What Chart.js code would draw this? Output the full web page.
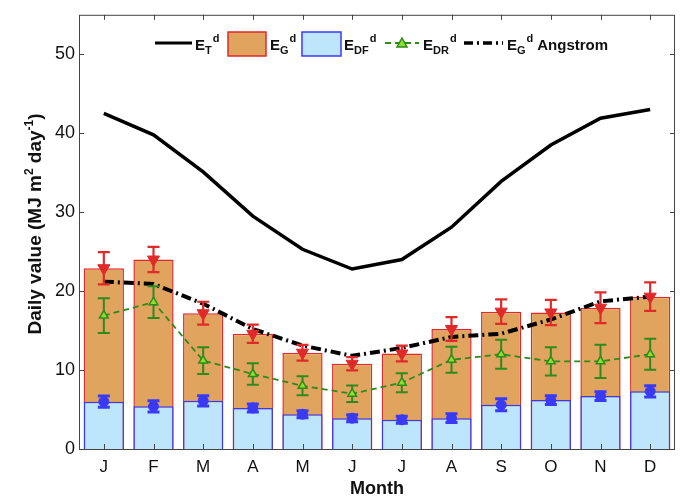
<!DOCTYPE html>
<html>
<head>
<meta charset="utf-8">
<script src="https://cdn.jsdelivr.net/npm/chart.js@4.4.0/dist/chart.umd.min.js"></script>
<style>
  html, body { margin: 0; padding: 0; background: #fff; }
  #wrap { width: 686px; height: 501px; }
</style>
</head>
<body>
<div id="wrap"><canvas id="chart" width="686" height="501"></canvas></div>
<script>
const months = ['J', 'F', 'M', 'A', 'M', 'J', 'J', 'A', 'S', 'O', 'N', 'D'];
const yTicks = [0, 10, 20, 30, 40, 50];

// extraterrestrial (ET), global (EG), diffuse (EDF), direct (EDR), Angstrom estimate
const et = [42.5, 39.8, 35.1, 29.5, 25.3, 22.8, 24.0, 28.1, 33.9, 38.5, 41.9, 43.0];
const eg = [22.9, 24.0, 17.2, 14.6, 12.2, 10.8, 12.1, 15.2, 17.4, 17.3, 17.9, 19.3];
const egErr = [2.05, 1.6, 1.45, 1.15, 1.0, 0.85, 1.0, 1.5, 1.55, 1.6, 1.95, 1.8];
const edf = [6.0, 5.4, 6.1, 5.2, 4.4, 3.9, 3.7, 3.9, 5.6, 6.2, 6.7, 7.3];
const edfErr = [0.7, 0.7, 0.65, 0.5, 0.45, 0.45, 0.45, 0.55, 0.75, 0.55, 0.55, 0.7];
const edr = [16.9, 18.6, 11.2, 9.5, 8.0, 7.0, 8.4, 11.3, 12.0, 11.1, 11.1, 12.0];
const edrErr = [2.2, 2.0, 1.7, 1.35, 1.2, 1.05, 1.2, 1.65, 1.85, 1.8, 2.1, 1.95];
const angstrom = [21.2, 20.9, 18.4, 15.2, 13.1, 11.8, 12.8, 14.2, 14.6, 16.4, 18.7, 19.3];

const FONT = 'Arial, "Liberation Sans", Helvetica, sans-serif';
const orange = '#E0A45E', red = '#E02A2A', lightBlue = '#BDE5FB', blue = '#3A3AF5';
const green = '#2F8A1C', lightGreen = '#8EE030';

// error bars, drawn right before the marker dataset they belong to
// [errors, colour, line width]
const errorSets = { 4: [egErr, red, 2.2], 5: [edfErr, blue, 3], 6: [edrErr, green, 2] };
const errorBars = {
    id: 'errorBars',
    beforeDatasetDraw(chart, args) {
        const e = errorSets[args.index];
        if (!e) return;
        const ctx = chart.ctx;
        const y = chart.scales.y;
        const data = chart.data.datasets[args.index].data;
        ctx.save();
        ctx.strokeStyle = e[1];
        ctx.lineWidth = e[2];
        args.meta.data.forEach((pt, i) => {
            const top = y.getPixelForValue(data[i] + e[0][i]);
            const bot = y.getPixelForValue(data[i] - e[0][i]);
            ctx.beginPath();
            ctx.moveTo(pt.x, top); ctx.lineTo(pt.x, bot);
            ctx.moveTo(pt.x - 6, top); ctx.lineTo(pt.x + 6, top);
            ctx.moveTo(pt.x - 6, bot); ctx.lineTo(pt.x + 6, bot);
            ctx.stroke();
        });
        ctx.restore();
    }
};

// box around the plot with inward ticks, like the original figure
const frame = {
    id: 'frame',
    afterDraw(chart) {
        const ctx = chart.ctx;
        const a = chart.chartArea;
        const x = chart.scales.x, y = chart.scales.y;
        ctx.save();
        ctx.strokeStyle = '#444';
        ctx.lineWidth = 1;
        ctx.strokeRect(a.left + 0.5, a.top + 0.5, a.right - a.left - 1, a.bottom - a.top);
        ctx.beginPath();
        yTicks.forEach(v => {
            const py = Math.round(y.getPixelForValue(v)) + 0.5;
            ctx.moveTo(a.left, py); ctx.lineTo(a.left + 5, py);
            ctx.moveTo(a.right, py); ctx.lineTo(a.right - 5, py);
        });
        months.forEach((m, i) => {
            const px = Math.round(x.getPixelForValue(i)) + 0.5;
            ctx.moveTo(px, a.top); ctx.lineTo(px, a.top + 5);
            ctx.moveTo(px, a.bottom); ctx.lineTo(px, a.bottom - 5);
        });
        ctx.stroke();
        ctx.restore();
    }
};

// draws E with subscript and superscript d, returns the end x
function drawE(ctx, x, y, sub, size) {
    ctx.font = 'bold ' + size + 'px ' + FONT;
    ctx.fillText('E', x, y);
    x += ctx.measureText('E').width;
    ctx.font = 'bold ' + Math.round(size * 0.7) + 'px ' + FONT;
    ctx.fillText(sub, x, y + 4);
    ctx.fillText('d', x + ctx.measureText(sub).width + 1, y - 8);
    return x + ctx.measureText(sub).width + 1 + ctx.measureText('d').width;
}

const legendAndTitle = {
    id: 'legendAndTitle',
    afterDraw(chart) {
        const ctx = chart.ctx;
        ctx.save();
        ctx.fillStyle = '#111';
        ctx.textBaseline = 'alphabetic';
        const ly = 43, by = 50, fs = 15;

        ctx.strokeStyle = '#000'; ctx.lineWidth = 3;
        ctx.beginPath(); ctx.moveTo(155, ly); ctx.lineTo(192, ly); ctx.stroke();
        drawE(ctx, 195, by, 'T', fs);

        ctx.fillStyle = orange; ctx.fillRect(228, 32, 38, 24);
        ctx.strokeStyle = red; ctx.lineWidth = 1.5; ctx.strokeRect(228, 32, 38, 24);
        ctx.fillStyle = '#111';
        drawE(ctx, 270, by, 'G', fs);

        ctx.fillStyle = lightBlue; ctx.fillRect(302, 32, 39, 24);
        ctx.strokeStyle = blue; ctx.lineWidth = 1.5; ctx.strokeRect(302, 32, 39, 24);
        ctx.fillStyle = '#111';
        drawE(ctx, 344, by, 'DF', fs);

        ctx.strokeStyle = green; ctx.lineWidth = 2; ctx.setLineDash([6, 4]);
        ctx.beginPath(); ctx.moveTo(385, ly); ctx.lineTo(419, ly); ctx.stroke();
        ctx.setLineDash([]);
        ctx.fillStyle = lightGreen; ctx.strokeStyle = green; ctx.lineWidth = 1.5;
        ctx.beginPath(); ctx.moveTo(402, ly - 5); ctx.lineTo(407, ly + 4); ctx.lineTo(397, ly + 4);
        ctx.closePath(); ctx.fill(); ctx.stroke();
        ctx.fillStyle = '#111';
        drawE(ctx, 423, by, 'DR', fs);

        ctx.strokeStyle = '#000'; ctx.lineWidth = 3.5; ctx.setLineDash([9, 4, 2, 4]);
        ctx.beginPath(); ctx.moveTo(464, ly); ctx.lineTo(503, ly); ctx.stroke();
        ctx.setLineDash([]);
        let ex = drawE(ctx, 507, by, 'G', fs);
        ctx.font = 'bold ' + fs + 'px ' + FONT;
        ctx.fillText('Angstrom', ex + 4, by);

        // y axis title with superscripts
        ctx.translate(35, 224);
        ctx.rotate(-Math.PI / 2);
        const big = 'bold 19px ' + FONT, small = 'bold 12px ' + FONT;
        const parts = [['Daily value (MJ m', big, 0], ['2', small, -8], [' day', big, 0], ['-1', small, -8], [')', big, 0]];
        let w = 0;
        parts.forEach(p => { ctx.font = p[1]; w += ctx.measureText(p[0]).width; });
        let tx = -w / 2;
        parts.forEach(p => {
            ctx.font = p[1];
            ctx.fillText(p[0], tx, 6 + p[2]);
            tx += ctx.measureText(p[0]).width;
        });
        ctx.restore();
    }
};

new Chart(document.getElementById('chart'), {
    data: {
        labels: months,
        datasets: [
            { type: 'bar', label: 'EG', data: eg, backgroundColor: orange, borderColor: red,
              borderWidth: 1.5, grouped: false, order: 10 },
            { type: 'bar', label: 'EDF', data: edf, backgroundColor: lightBlue, borderColor: blue,
              borderWidth: 1.5, grouped: false, order: 9 },
            { type: 'line', label: 'ET', data: et, borderColor: '#000', borderWidth: 3.5,
              pointRadius: 0, tension: 0, order: 8 },
            { type: 'line', label: 'EG Angstrom', data: angstrom, borderColor: '#000', borderWidth: 4,
              borderDash: [10, 4, 2, 4], pointRadius: 0, tension: 0, order: 7 },
            { type: 'line', label: 'EG mean', data: eg, showLine: false, pointStyle: 'triangle',
              rotation: 180, pointRadius: 7, backgroundColor: red, borderColor: red, order: 5 },
            { type: 'line', label: 'EDF mean', data: edf, showLine: false, pointStyle: 'circle',
              pointRadius: 5, backgroundColor: blue, borderColor: blue, order: 4 },
            { type: 'line', label: 'EDR', data: edr, borderColor: green, borderWidth: 1.8,
              borderDash: [6, 4], pointStyle: 'triangle', pointRadius: 5, pointBorderWidth: 1.5,
              pointBackgroundColor: lightGreen, pointBorderColor: green, tension: 0, order: 6 }
        ]
    },
    options: {
        responsive: false,
        animation: false,
        events: [],
        layout: { padding: { top: 12, right: 11, left: 0, bottom: 0 } },
        plugins: { legend: { display: false }, tooltip: { enabled: false } },
        datasets: { bar: { barPercentage: 0.81, categoryPercentage: 1 } },
        scales: {
            x: {
                offset: true,
                grid: { display: false, drawTicks: false },
                border: { display: false },
                ticks: { color: '#111', font: { family: FONT, size: 17 }, padding: 8 },
                title: { display: true, text: 'Month', color: '#111',
                         font: { family: FONT, size: 18, weight: 'bold' }, padding: { top: 0, bottom: 1 } },
                afterFit(s) { s.height = 52; }
            },
            y: {
                min: 0, max: 55,
                grid: { display: false, drawTicks: false },
                border: { display: false },
                ticks: { stepSize: 10, includeBounds: false, color: '#111',
                         font: { family: FONT, size: 18 }, padding: 4 },
                afterFit(s) { s.width = 79; }
            }
        }
    },
    plugins: [errorBars, frame, legendAndTitle]
});
</script>
</body>
</html>
